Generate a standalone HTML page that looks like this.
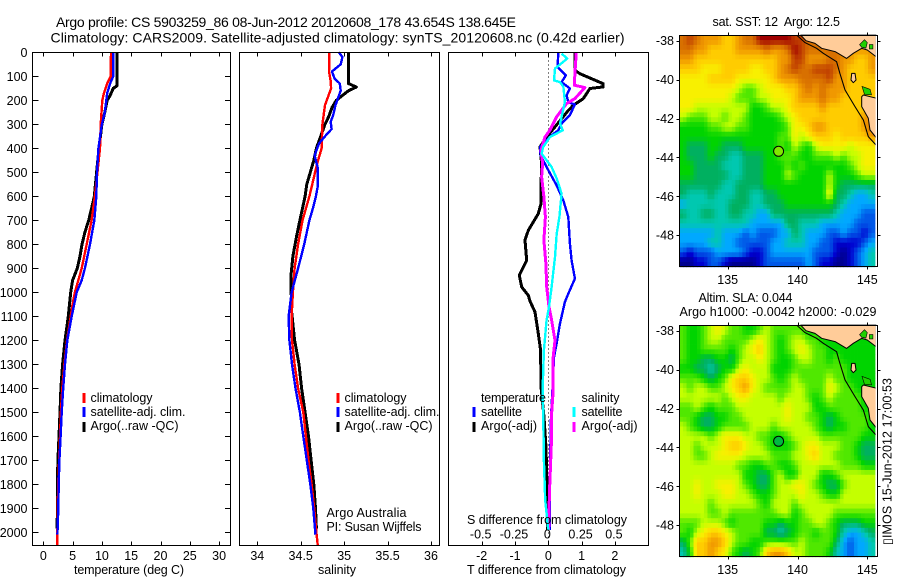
<!DOCTYPE html>
<html lang="en">
<head>
<meta charset="utf-8">
<title>Argo profile chart</title>
<style>
html,body{margin:0;padding:0;background:#fff;width:900px;height:580px;overflow:hidden}
svg{display:block}
text{font-family:"Liberation Sans",sans-serif;font-size:12.5px;fill:#000;white-space:pre}
.ttl{font-size:14px}
</style>
</head>
<body>
<svg id="chart" width="900" height="580" viewBox="0 0 900 580">
<rect x="0" y="0" width="900" height="580" fill="#fff"/>
<text class="ttl" x="56" y="27" textLength="460">Argo profile: CS 5903259_86 08-Jun-2012 20120608_178 43.654S 138.645E</text>
<text class="ttl" x="50.5" y="42.5" textLength="574">Climatology: CARS2009. Satellite-adjusted climatology: synTS_20120608.nc (0.42d earlier)</text>

<g id="panel-temp"></g>
<g id="panel-sal"></g>
<g id="panel-diff"></g>
<g id="map-sst"></g>
<g id="map-sla"></g>

<g shape-rendering="crispEdges">
<rect x="82.5" y="393" width="3" height="10" fill="#f00"/>
<rect x="82.5" y="407" width="3" height="10" fill="#00f"/>
<rect x="82.5" y="422" width="3" height="10" fill="#000"/>
</g>
<text x="90.5" y="402" textLength="62">climatology</text>
<text x="90.5" y="416" textLength="95">satellite-adj. clim.</text>
<text x="90.5" y="430" textLength="88">Argo(..raw -QC)</text>

<g shape-rendering="crispEdges">
<rect x="336.5" y="393" width="3" height="10" fill="#f00"/>
<rect x="336.5" y="407" width="3" height="10" fill="#00f"/>
<rect x="336.5" y="422" width="3" height="10" fill="#000"/>
</g>
<text x="344.5" y="402" textLength="62">climatology</text>
<text x="344.5" y="416" textLength="95">satellite-adj. clim.</text>
<text x="344.5" y="430" textLength="88">Argo(..raw -QC)</text>
<text x="326.5" y="517" textLength="80">Argo Australia</text>
<text x="326.5" y="531" textLength="95">PI: Susan Wijffels</text>

<g shape-rendering="crispEdges">
<rect x="472.5" y="407" width="3" height="10" fill="#00f"/>
<rect x="472.5" y="422" width="3" height="10" fill="#000"/>
<rect x="572.5" y="407" width="3" height="10" fill="#0ff"/>
<rect x="572.5" y="422" width="3" height="10" fill="#f0f"/>
</g>
<text x="481" y="402" textLength="65">temperature</text>
<text x="481" y="416" textLength="41">satellite</text>
<text x="481" y="430" textLength="56">Argo(-adj)</text>
<text x="581.5" y="402" textLength="38">salinity</text>
<text x="581.5" y="416" textLength="41">satellite</text>
<text x="581.5" y="430" textLength="56">Argo(-adj)</text>

<text x="467" y="524" textLength="160">S difference from climatology</text>
<text x="74" y="574" textLength="110">temperature (deg C)</text>
<text x="318" y="574" textLength="38">salinity</text>
<text x="467" y="574" textLength="159">T difference from climatology</text>

<text x="712.5" y="26" textLength="127.5">sat. SST: 12  Argo: 12.5</text>
<text x="698.5" y="302" textLength="94">Altim. SLA: 0.044</text>
<text x="679.5" y="316" textLength="197">Argo h1000: -0.0042 h2000: -0.029</text>
<text transform="translate(891.5,545) rotate(-90)" x="0" y="0" textLength="167" style="font-family:'Liberation Sans','DejaVu Sans',sans-serif">▯IMOS 15-Jun-2012 17:00:53</text>
</svg>

<script>
/* ---------- profile data ---------- */
const depthTicks=[0,100,200,300,400,500,600,700,800,900,1000,1100,1200,1300,1400,1500,1600,1700,1800,1900,2000];
const tempTicks=[0,5,10,15,20,25,30];
const salTicks=[34,34.5,35,35.5,36];
const salTickLabels=['34','34.5','35','35.5','36'];
const tDiffTicks=[-2,-1,0,1,2];
const sDiffTicks=[-0.5,-0.25,0,0.25,0.5];
const sDiffTickLabels=['-0.5','-0.25','0','0.25','0.5'];

const tempArgoDepth=[0,140,150,180,200,250,300,400,500,600,650,700,750,800,850,900,950,1000,1100,1200,1300,1400,1500,1600,1700,1800,1900,1985];
const tempArgo=[12.58,12.58,11.95,11.4,10.9,10.5,10.0,9.5,9.1,8.7,8.25,7.75,7.1,6.6,6.26,5.8,5.0,4.67,4.27,3.7,3.3,3.0,2.85,2.68,2.5,2.4,2.4,2.35];
const tempClimDepth=[0,100,130,170,200,300,400,490,600,700,800,900,1000,1050,1100,1200,1300,1400,1500,1600,1700,1800,1900,2000,2053];
const tempClim=[11.55,11.5,10.9,10.35,10.07,9.8,9.67,9.28,8.8,8.25,7.4,6.55,5.4,5.0,4.67,4.04,3.6,3.25,3.0,2.85,2.7,2.55,2.45,2.4,2.4];
const tempSatDepth=[0,100,130,170,250,300,400,500,600,700,800,900,950,1000,1100,1200,1300,1400,1500,1600,1700,1800,1900,2010];
const tempSat=[11.95,11.95,11.4,10.9,10.5,10,9.4,9.16,9.05,8.7,7.97,7.1,6.55,5.7,4.85,4.1,3.7,3.4,3.14,2.96,2.74,2.62,2.56,2.4];

const salArgoDepth=[0,130,145,160,200,230,270,300,350,400,450,500,550,600,650,700,770,850,920,1000,1080,1200,1300,1400,1500,1600,1700,1800,1900,1985];
const salArgo=[35.05,35.05,35.14,35.05,34.91,34.86,34.82,34.78,34.73,34.68,34.65,34.61,34.57,34.55,34.52,34.49,34.45,34.41,34.39,34.39,34.395,34.43,34.48,34.51,34.55,34.59,34.62,34.65,34.67,34.68];
const salClimDepth=[0,50,80,120,150,180,220,300,400,450,500,600,700,800,900,1000,1100,1200,1300,1400,1500,1600,1700,1800,1900,2000,2053];
const salClim=[34.83,34.83,34.825,34.845,34.85,34.82,34.78,34.75,34.74,34.70,34.665,34.6,34.52,34.47,34.43,34.41,34.395,34.40,34.43,34.47,34.53,34.56,34.59,34.625,34.655,34.68,34.695];
const salSatDepth=[0,20,50,80,110,130,160,190,220,260,290,320,350,380,430,480,560,600,650,700,800,900,1000,1100,1200,1300,1400,1500,1600,1700,1800,1900,2010];
const salSat=[34.94,34.98,34.96,34.86,34.89,34.95,34.96,34.93,34.9,34.875,34.845,34.855,34.78,34.71,34.66,34.695,34.695,34.675,34.64,34.6,34.54,34.47,34.395,34.36,34.37,34.40,34.44,34.49,34.53,34.57,34.61,34.645,34.67];

const dtSatDepth=[0,61,96,124,151,179,208,217,262,297,325,346,394,429,478,554,617,686,797,867,943,1006,1040,1130,1213,1270,1394,1519,1727,1990];
const dtSat=[.30,.28,.53,.40,.65,.55,.60,.80,.65,.40,.30,.10,-.25,-.23,-.05,.25,.45,.60,.65,.70,.80,.60,.50,.35,.25,.17,.13,.08,.05,.05];
const dtArgoDepth=[0,75,89,131,144,151,193,221,242,311,353,394,464,561,631,672,742,783,867,929,978,1013,1037,1082,1172,1241,1394,1519,1644,1852,1990];
const dtArgo=[.80,.80,.95,1.65,1.65,1.25,1.05,.75,.60,.20,-.05,-.25,-.20,-.22,-.22,-.30,-.60,-.70,-.65,-.87,-.80,-.60,-.55,-.40,-.30,-.23,-.22,-.13,-.07,-.03,-.02];
const dsArgoDepth=[0,89,137,147,193,214,269,325,353,408,464,519,603,686,783,881,978,1061,1116,1200,1269,1408,1505,1602,1700,1839,1990];
const dsArgo=[.21,.20,.195,.275,.2,.137,.062,.012,-.025,-.055,-.043,-.05,-.033,-.022,-.033,-.018,-.012,.005,.025,.05,.037,.037,.025,.025,.018,.008,.003];
const dsSatDepth=[6,26,68,117,124,144,207,269,297,325,353,394,422,478,526,589,686,756,853,978,1061,1116,1241,1408,1505,1700,1866,1991];
const dsSat=[.1,.143,.05,.043,.088,.113,.125,.1,.088,.108,.013,-.038,-.05,.025,.063,.1,.083,.063,.05,.025,.005,-.013,-.033,-.043,-.038,-.033,-.023,0];

/* ---------- map data: colour-level grids, north to south ---------- */
const sstLevels=[
[12,13,12,11,11,11,10,10,11,12,12,14,14,14,14,14,13,13,12,12,12,12,12,11,11,11,11,11],
[12,12,11,11,10,10,10,10,11,11,11,11,12,11,11,12,14,13,12,12,12,12,12,12,11,11,11,11],
[11,11,10,10,10,10,10,10,10,10,10,10,10,10,11,11,13,13,11,11,11,12,12,11,11,10,10,11],
[10,10,10,9,9,9,10,10,10,10,9,9,10,10,11,12,13,12,12,13,13,13,12,11,10,10,10,11],
[9,9,9,9,10,10,10,10,9,9,9,9,9,10,11,11,11,12,12,12,12,13,11,11,10,10,10,10],
[9,9,9,9,9,9,9,9,8,7,7,8,9,9,9,10,10,11,12,11,12,11,11,11,10,10,10,10],
[9,9,9,9,9,9,9,8,7,7,7,8,8,9,9,9,10,11,11,11,12,11,11,10,10,10,10,10],
[9,9,8,8,8,8,8,8,8,8,6,6,7,8,8,9,10,10,10,10,11,10,10,10,10,10,10,11],
[8,7,7,7,8,8,7,8,8,7,6,6,6,6,7,8,9,10,10,10,10,10,10,10,10,10,11,11],
[6,6,6,6,7,7,8,8,7,7,6,6,6,6,6,7,9,9,10,11,11,10,10,10,10,10,11,12],
[6,6,6,6,6,6,6,6,6,6,6,6,6,6,7,7,9,8,9,10,10,10,9,10,10,10,10,11],
[6,5,5,5,6,6,5,5,5,6,6,6,6,6,7,6,8,7,6,8,9,9,9,9,8,9,9,9],
[6,5,5,5,6,5,5,4,4,5,5,5,6,6,7,7,7,6,6,7,7,7,8,7,8,8,9,9],
[6,6,5,5,5,5,4,4,4,5,5,5,6,6,6,7,6,7,6,6,6,6,6,6,7,8,9,9],
[6,6,5,5,5,5,5,4,4,5,5,5,6,6,6,8,7,6,6,6,6,8,6,6,6,7,8,8],
[5,5,5,5,5,5,4,4,5,5,5,5,6,6,6,6,6,6,6,6,6,8,6,5,5,5,5,5],
[5,4,4,4,5,4,4,4,5,5,4,4,5,5,6,6,6,6,6,6,6,9,5,5,4,3,3,4],
[3,4,4,4,4,4,4,5,5,5,4,4,5,5,5,6,6,6,6,6,6,6,5,4,3,3,3,3],
[5,4,4,5,5,4,4,5,5,4,4,3,3,5,5,5,5,5,5,5,5,5,4,3,3,3,2,2],
[4,4,4,4,4,4,4,4,4,4,3,3,3,3,3,5,5,4,4,4,3,3,3,3,3,2,2,2],
[3,3,3,3,3,4,3,3,3,2,3,2,2,2,3,3,5,4,3,3,3,2,2,3,2,2,1,2],
[3,3,3,3,4,4,3,3,2,2,2,2,2,3,3,4,4,4,3,3,2,2,1,1,1,1,2,3],
[2,1,2,2,2,3,3,3,3,2,1,1,2,3,3,3,3,3,3,2,2,2,1,0,1,2,3,4],
[0,0,1,1,2,2,1,0,0,0,0,1,2,2,2,2,2,2,3,2,1,1,0,0,1,2,3,4]
];
const slaLevels=[
[7,6,6,7,8,9,8,7,7,6,6,7,8,7,7,7,7,7,6,6,6,6,6,6,6,6,6,6],
[7,6,6,7,8,8,7,7,7,7,8,9,8,7,6,7,8,8,7,7,6,6,6,6,6,6,6,6],
[7,6,6,7,7,7,7,6,7,8,9,10,8,7,6,7,8,9,8,7,7,6,6,6,6,6,6,6],
[7,6,6,5,5,6,6,5,7,8,8,9,8,7,6,6,7,8,8,7,7,6,7,6,6,6,6,6],
[6,6,5,5,4,5,6,6,8,9,8,8,8,6,6,6,7,7,7,7,7,7,7,7,6,6,6,6],
[7,7,7,6,5,6,7,9,10,10,9,8,8,7,6,7,8,7,7,7,7,8,7,7,6,6,6,6],
[8,7,8,8,7,7,8,9,10,11,9,8,7,7,7,7,8,8,7,7,7,9,8,7,7,6,6,6],
[8,8,8,8,8,8,7,8,9,9,8,8,8,8,7,8,8,8,7,6,7,8,7,7,7,7,6,6],
[7,7,8,7,6,7,7,7,8,8,8,8,8,8,8,9,8,8,8,6,6,7,7,7,7,7,6,6],
[7,7,6,5,5,6,6,7,7,8,8,8,8,8,8,9,8,8,7,7,6,5,6,7,7,7,7,6],
[8,7,6,5,5,6,7,7,7,7,8,8,8,7,8,8,8,8,8,7,6,5,6,6,7,7,7,6],
[8,8,8,8,7,8,9,9,9,8,8,7,7,6,6,7,8,8,8,8,7,7,7,7,7,7,6,6],
[8,8,7,8,8,8,9,10,10,9,8,8,7,6,6,6,7,8,9,9,8,8,8,7,7,6,5,5],
[8,8,7,7,8,9,9,9,9,8,8,8,8,7,7,7,8,8,9,10,8,8,7,7,7,6,5,5],
[8,8,8,8,8,8,8,8,7,7,6,6,7,7,6,6,7,8,8,8,8,8,8,7,7,7,6,6],
[8,8,8,8,8,8,8,8,8,6,6,5,5,7,8,6,6,8,8,8,6,6,7,8,8,8,8,8],
[8,8,9,8,8,9,9,9,8,7,6,5,5,7,8,8,9,9,8,7,6,5,5,7,8,8,8,8],
[8,8,9,8,8,8,9,9,8,8,7,6,6,7,8,8,8,9,8,8,7,6,6,8,8,8,8,8],
[8,8,8,8,7,8,8,8,8,8,8,7,6,8,8,8,7,8,8,8,8,8,8,8,8,8,8,8],
[8,8,8,8,7,7,8,7,7,7,7,7,7,7,8,8,6,7,8,8,8,8,7,7,7,7,7,7],
[7,7,7,8,8,8,7,6,7,7,7,7,6,6,5,6,6,7,7,8,8,7,6,5,5,5,6,6],
[7,6,8,9,10,10,9,8,7,7,7,7,5,5,4,5,6,7,7,6,7,7,6,4,3,3,4,5],
[5,7,10,10,11,11,10,8,7,7,6,6,7,7,7,7,7,8,7,7,7,7,5,3,2,3,3,4],
[4,6,10,10,11,10,9,7,6,5,6,7,10,11,11,10,8,8,7,7,7,6,4,3,2,3,3,4]
];
const levelColours=[[0,0,144],[0,0,208],[0,88,232],[0,168,255],[0,200,176],[0,176,96],[0,212,0],[80,232,0],[196,255,0],[248,240,0],[255,204,0],[240,152,0],[216,112,0],[192,64,0],[160,0,0]];
const lonTicks=[135,140,145];
const latTicks=[-38,-40,-42,-44,-46,-48];
const argoLon=138.645;
const argoLat=-43.654;
const mainlandCoast=[[140.23,-37.71],[140.61,-38.0],[141.25,-38.14],[141.73,-38.39],[142.69,-38.56],[143.52,-38.91],[144.0,-38.65],[144.6,-38.39],[145.0,-38.48],[145.62,-38.82],[145.62,-37.71]];
const tasmaniaCoast=[[144.72,-40.79],[145.67,-40.96],[145.67,-43.02],[145.19,-42.59],[145.07,-41.99],[144.6,-41.39],[144.6,-40.88]];
const kingIslandCoast=[[143.88,-39.68],[144.12,-39.68],[144.19,-40.02],[144.0,-40.16],[143.83,-40.02]];
const isobath=[[139.94,-37.71],[140.54,-38.1],[141.37,-38.39],[141.85,-38.65],[142.8,-39.08],[143.04,-39.68],[143.4,-40.53],[144.12,-41.39],[144.72,-42.08],[145.07,-42.93],[145.62,-43.36]];
const bayPatchA=[[144.45,-38.2],[144.8,-37.95],[145.0,-38.1],[144.9,-38.38],[144.6,-38.34]];
const bayPatchB=[[145.15,-38.2],[145.4,-38.2],[145.4,-38.42],[145.15,-38.42]];
const tasPatch=[[144.62,-40.35],[144.9,-40.42],[145.2,-40.5],[145.3,-40.78],[144.8,-40.76]];

/* ---------- axis functions ---------- */
const NS='http://www.w3.org/2000/svg';
function mk(parent,tag,attrs,txt){
  const el=document.createElementNS(NS,tag);
  for(const k in attrs)el.setAttribute(k,attrs[k]);
  if(txt!==undefined)el.textContent=txt;
  parent.appendChild(el);
  return el;
}
const yDepth=d=>52.3+0.24*d;
const xTemp=v=>43.3+5.86*v;
const xSal=v=>257.3+86.85*(v-34);
const xDiff=v=>548.3+33.3*v;
const xDiffS=v=>xDiff(4*v);
const xLon=v=>727.7+(v-135)*13.96;
const yLat=(v,off)=>40.7+(-38-v)*19.45+off;

function profile(parent,depths,vals,xf,colour,width,name){
  const pts=depths.map((d,i)=>xf(vals[i]).toFixed(1)+','+yDepth(d).toFixed(1)).join(' ');
  const el=mk(parent,'polyline',{points:pts,fill:'none',stroke:colour,'stroke-width':width,'shape-rendering':'crispEdges','stroke-linejoin':'round'});
  
  
}
function frame(parent,x,y,w,h,name){
  const el=mk(parent,'rect',{x:x,y:y,width:w,height:h,fill:'none',stroke:'#000','stroke-width':1,'shape-rendering':'crispEdges'});
  
  
}
function tick(parent,x1,y1,x2,y2){
  const el=mk(parent,'line',{x1:x1,y1:y1,x2:x2,y2:y2,stroke:'#000','stroke-width':1,'shape-rendering':'crispEdges'});
  
  
}
function label(parent,x,y,s,anchor,name){
  const el=mk(parent,'text',{x:x,y:y,'text-anchor':anchor},s);
  
  
}
function xTicksFor(parent,ticks,labels,xf){
  ticks.forEach((t,i)=>{
    const x=Math.round(xf(t))+0.5;
    tick(parent,x,52.5,x,56.5);
    tick(parent,x,541.5,x,545.5);
    label(parent,xf(t),560,labels[i],'middle','x-tick-label');
  });
}

/* temperature panel */
const pT=document.getElementById('panel-temp');
profile(pT,tempArgoDepth,tempArgo,xTemp,'#000',3,'temperature-argo-line');
profile(pT,tempClimDepth,tempClim,xTemp,'#f00',2.4,'temperature-climatology-line');
profile(pT,tempSatDepth,tempSat,xTemp,'#00f',2.4,'temperature-satellite-line');
frame(pT,32.5,52.5,198,493,'temperature-plot-frame');
xTicksFor(pT,tempTicks,tempTicks.map(String),xTemp);
depthTicks.forEach(d=>{
  const y=Math.round(yDepth(d))+0.5;
  tick(pT,32.5,y,38.5,y);
  tick(pT,225,y,231,y);
  label(pT,27.5,yDepth(d)+4.5,String(d),'end','depth-tick-label');
});

/* salinity panel */
const pS=document.getElementById('panel-sal');
profile(pS,salArgoDepth,salArgo,xSal,'#000',3,'salinity-argo-line');
profile(pS,salClimDepth,salClim,xSal,'#f00',2.4,'salinity-climatology-line');
profile(pS,salSatDepth,salSat,xSal,'#00f',2.4,'salinity-satellite-line');
frame(pS,239.5,52.5,200,493,'salinity-plot-frame');
xTicksFor(pS,salTicks,salTickLabels,xSal);

/* difference panel */
const pD=document.getElementById('panel-diff');
const zeroLine=mk(pD,'line',{x1:548.5,y1:52.5,x2:548.5,y2:545,stroke:'#000','stroke-width':1,'stroke-dasharray':'1 3','shape-rendering':'crispEdges'});


profile(pD,dtArgoDepth,dtArgo,xDiff,'#000',3,'t-diff-argo-line');
profile(pD,dtSatDepth,dtSat,xDiff,'#00f',2.4,'t-diff-satellite-line');
profile(pD,dsArgoDepth,dsArgo,xDiffS,'#f0f',3,'s-diff-argo-line');
profile(pD,dsSatDepth,dsSat,xDiffS,'#0ff',2.4,'s-diff-satellite-line');
frame(pD,448.5,52.5,200,493,'difference-plot-frame');
xTicksFor(pD,tDiffTicks,tDiffTicks.map(String),xDiff);
sDiffTicks.forEach((t,i)=>{
  label(pD,xDiffS(t)-1,538.5,sDiffTickLabels[i],'middle','s-diff-tick-label');
});

/* maps */
function polyStr(coords,off){
  return coords.map(c=>xLon(c[0]).toFixed(1)+','+yLat(c[1],off).toFixed(1)).join(' ');
}
function levelColour(lv){
  const v=Math.max(0,Math.min(14,lv));
  const i=Math.min(13,Math.floor(v)), f=v-i;
  const a=levelColours[i], b=levelColours[i+1];
  return 'rgb('+a.map((c,k)=>Math.round(c+(b[k]-c)*f)).join(',')+')';
}
function sampleLevels(levels,ru,cu){
  const r=Math.max(0,Math.min(levels.length-1,ru)), c=Math.max(0,Math.min(levels[0].length-1,cu));
  const r0=Math.floor(r), c0=Math.floor(c);
  const r1=Math.min(levels.length-1,r0+1), c1=Math.min(levels[0].length-1,c0+1);
  const fr=r-r0, fc=c-c0;
  return (levels[r0][c0]*(1-fc)+levels[r0][c1]*fc)*(1-fr)+(levels[r1][c0]*(1-fc)+levels[r1][c1]*fc)*fr;
}
function drawMap(g,levels,off,circleFill,nm){
  const lon0=131.55, dLon=0.25, lat0=-37.72, dLat=0.248;
  const nRows=levels.length*2, nCols=levels[0].length*2;
  for(let r=0;r<nRows;r++){
    for(let c=0;c<nCols;c++){
      const lv=sampleLevels(levels,(r+0.5)/2-0.5,(c+0.5)/2-0.5);
      const x0=xLon(lon0+c*dLon), x1=xLon(lon0+(c+1)*dLon);
      const y0=yLat(lat0-r*dLat,off), y1=yLat(lat0-(r+1)*dLat,off);
      const cell=mk(g,'rect',{x:x0.toFixed(2),y:y0.toFixed(2),width:(x1-x0+0.4).toFixed(2),height:(y1-y0+0.4).toFixed(2),fill:levelColour(lv)});
      
      
    }
  }
  [[mainlandCoast,'mainland'],[tasmaniaCoast,'tasmania'],[kingIslandCoast,'king-island']].forEach(p=>{
    const land=mk(g,'polygon',{points:polyStr(p[0],off),fill:'#ffcc99',stroke:'#000','stroke-width':1,'stroke-linejoin':'round'});
    
    
  });
  [bayPatchA,bayPatchB,tasPatch].forEach(p=>{
    const patch=mk(g,'polygon',{points:polyStr(p,off),fill:'#20d000',stroke:'#000','stroke-width':0.6});
    
    
  });
  const iso=mk(g,'polyline',{points:polyStr(isobath,off),fill:'none',stroke:'#000','stroke-width':1.1});
  
  
  const whiteEdge=mk(g,'rect',{x:875.6,y:35.5+off,width:1.6,height:231,fill:'#fff'});
  
  
  frame(g,679.5,35.5+off,198,231,nm+'-frame');
  lonTicks.forEach(t=>{
    const x=Math.round(xLon(t))+0.5;
    tick(g,x,32.5+off,x,35.5+off);
    tick(g,x,266.5+off,x,269.5+off);
    label(g,xLon(t),284+off,String(t),'middle','longitude-tick-label');
  });
  latTicks.forEach(t=>{
    const y=Math.round(yLat(t,off))+0.5;
    tick(g,676.5,y,679.5,y);
    tick(g,877.5,y,880.5,y);
    label(g,674,yLat(t,off)+4.5,String(t),'end','latitude-tick-label');
  });
  const marker=mk(g,'circle',{cx:xLon(argoLon).toFixed(1),cy:(yLat(argoLat,off)+0.6).toFixed(1),r:5,fill:circleFill,stroke:'#000','stroke-width':1});
  
  
}
drawMap(document.getElementById('map-sst'),sstLevels,0,'#80e800','sst-map');
drawMap(document.getElementById('map-sla'),slaLevels,290,'#00b840','sla-map');
</script>
</body>
</html>
